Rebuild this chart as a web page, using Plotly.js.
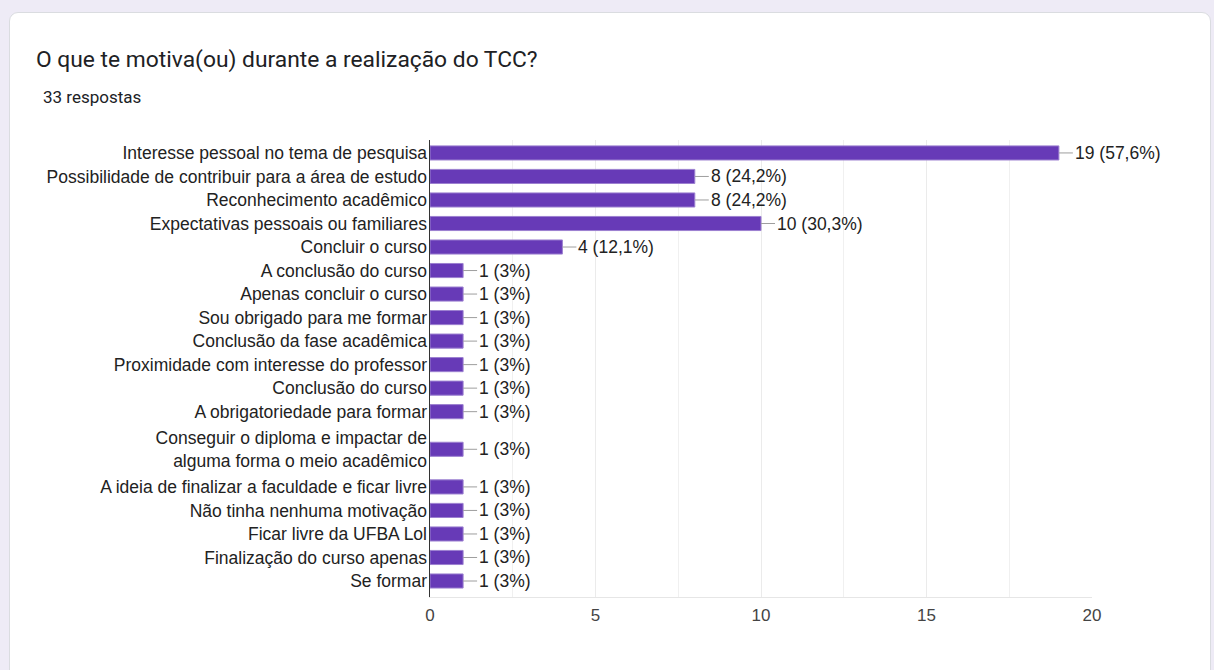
<!DOCTYPE html>
<html>
<head>
<meta charset="utf-8">
<script src="https://cdn.plot.ly/plotly-3.0.1.min.js"></script>
<style>
  html, body { margin: 0; padding: 0; background: #eeebf6; width: 1214px; height: 670px; overflow: hidden; }
  #card { position: absolute; left: 9px; top: 12px; width: 1200px; height: 700px; background: #ffffff;
          border: 1px solid #dadce0; border-radius: 9px; }
  #chart { position: absolute; left: 0; top: 0; width: 1214px; height: 670px; }
</style>
</head>
<body>
<div id="card"></div>
<div id="chart"></div>
<script>
// ---- data ----
const categories = [
  "Interesse pessoal no tema de pesquisa",
  "Possibilidade de contribuir para a área de estudo",
  "Reconhecimento acadêmico",
  "Expectativas pessoais ou familiares",
  "Concluir o curso",
  "A conclusão do curso",
  "Apenas concluir o curso",
  "Sou obrigado para me formar",
  "Conclusão da fase acadêmica",
  "Proximidade com interesse do professor",
  "Conclusão do curso",
  "A obrigatoriedade para formar",
  "Conseguir o diploma e impactar de<br>alguma forma o meio acadêmico",
  "A ideia de finalizar a faculdade e ficar livre",
  "Não tinha nenhuma motivação",
  "Ficar livre da UFBA Lol",
  "Finalização do curso apenas",
  "Se formar"
];
const counts = [19, 8, 8, 10, 4, 1, 1, 1, 1, 1, 1, 1, 1, 1, 1, 1, 1, 1];
const totalResponses = 33;
const xTickValues = [0, 5, 10, 15, 20];

// ---- derived layout helpers (row slots grow with label line count) ----
const lineCounts = categories.map(c => c.split("<br>").length);
const slotHeights = lineCounts.map(n => 1 + (n - 1) * 1.2);
const positions = [];
let acc = 0;
slotHeights.forEach(h => { positions.push(acc + h / 2); acc += h; });

function pctLabel(v) {
  let p = Math.round(v / totalResponses * 1000) / 10;
  let s = (p % 1 === 0) ? String(Math.round(p)) : p.toFixed(1).replace(".", ",");
  return v + " (" + s + "%)";
}

const trace = {
  type: "bar",
  orientation: "h",
  x: counts,
  y: positions,
  width: 0.6,
  marker: { color: "#673ab7", line: { color: "#9c80d0", width: 1 } },
  hoverinfo: "skip"
};

const annotations = counts.map((v, i) => ({
  x: v, y: positions[i], xref: "x", yref: "y",
  text: pctLabel(v),
  showarrow: true, arrowhead: 0, arrowwidth: 1, arrowcolor: "#9e9e9e",
  ax: 14, ay: 0, standoff: 0,
  xanchor: "left", yanchor: "middle",
  font: { family: "Liberation Sans, Arial, sans-serif", size: 17.5, color: "#222222" }
}));

annotations.push({
  text: "33 respostas",
  xref: "paper", yref: "paper",
  x: (41 - 430) / 662, y: (597 - 97) / 457,
  xanchor: "left", yanchor: "middle", showarrow: false,
  font: { family: "Roboto, sans-serif", size: 17, color: "#202124" }
});

const layout = {
  width: 1214, height: 670,
  paper_bgcolor: "rgba(0,0,0,0)",
  plot_bgcolor: "rgba(0,0,0,0)",
  margin: { l: 430, r: 122, t: 140, b: 73 },
  showlegend: false,
  title: {
    text: "O que te motiva(ou) durante a realização do TCC?",
    xref: "container", yref: "container",
    x: 36 / 1214, xanchor: "left",
    y: 1 - 59 / 670, yanchor: "middle",
    font: { family: "Roboto, sans-serif", size: 22.8, color: "#202124" }
  },
  xaxis: {
    range: [0, 20],
    tickvals: xTickValues,
    ticktext: xTickValues.map(String),
    showgrid: true, gridcolor: "#ebebeb", gridwidth: 1,
    minor: { dtick: 2.5, tick0: 0, showgrid: true, gridcolor: "#f0f0f0", gridwidth: 1 },
    zeroline: false,
    showline: true, linecolor: "#e6e6e6", linewidth: 1, mirror: false,
    ticks: "", ticklabelstandoff: 3,
    tickfont: { family: "Liberation Sans, Arial, sans-serif", size: 17, color: "#444444" },
    fixedrange: true
  },
  yaxis: {
    range: [19.38, -0.05],
    tickvals: positions,
    ticktext: categories,
    showgrid: false, zeroline: false,
    showline: true, linecolor: "#333333", linewidth: 1.5,
    ticks: "", ticklabelstandoff: -2,
    tickfont: { family: "Liberation Sans, Arial, sans-serif", size: 17.5, color: "#222222" },
    fixedrange: true
  },
  annotations: annotations
};

Plotly.newPlot("chart", [trace], layout, { displayModeBar: false, staticPlot: true });
</script>
</body>
</html>
